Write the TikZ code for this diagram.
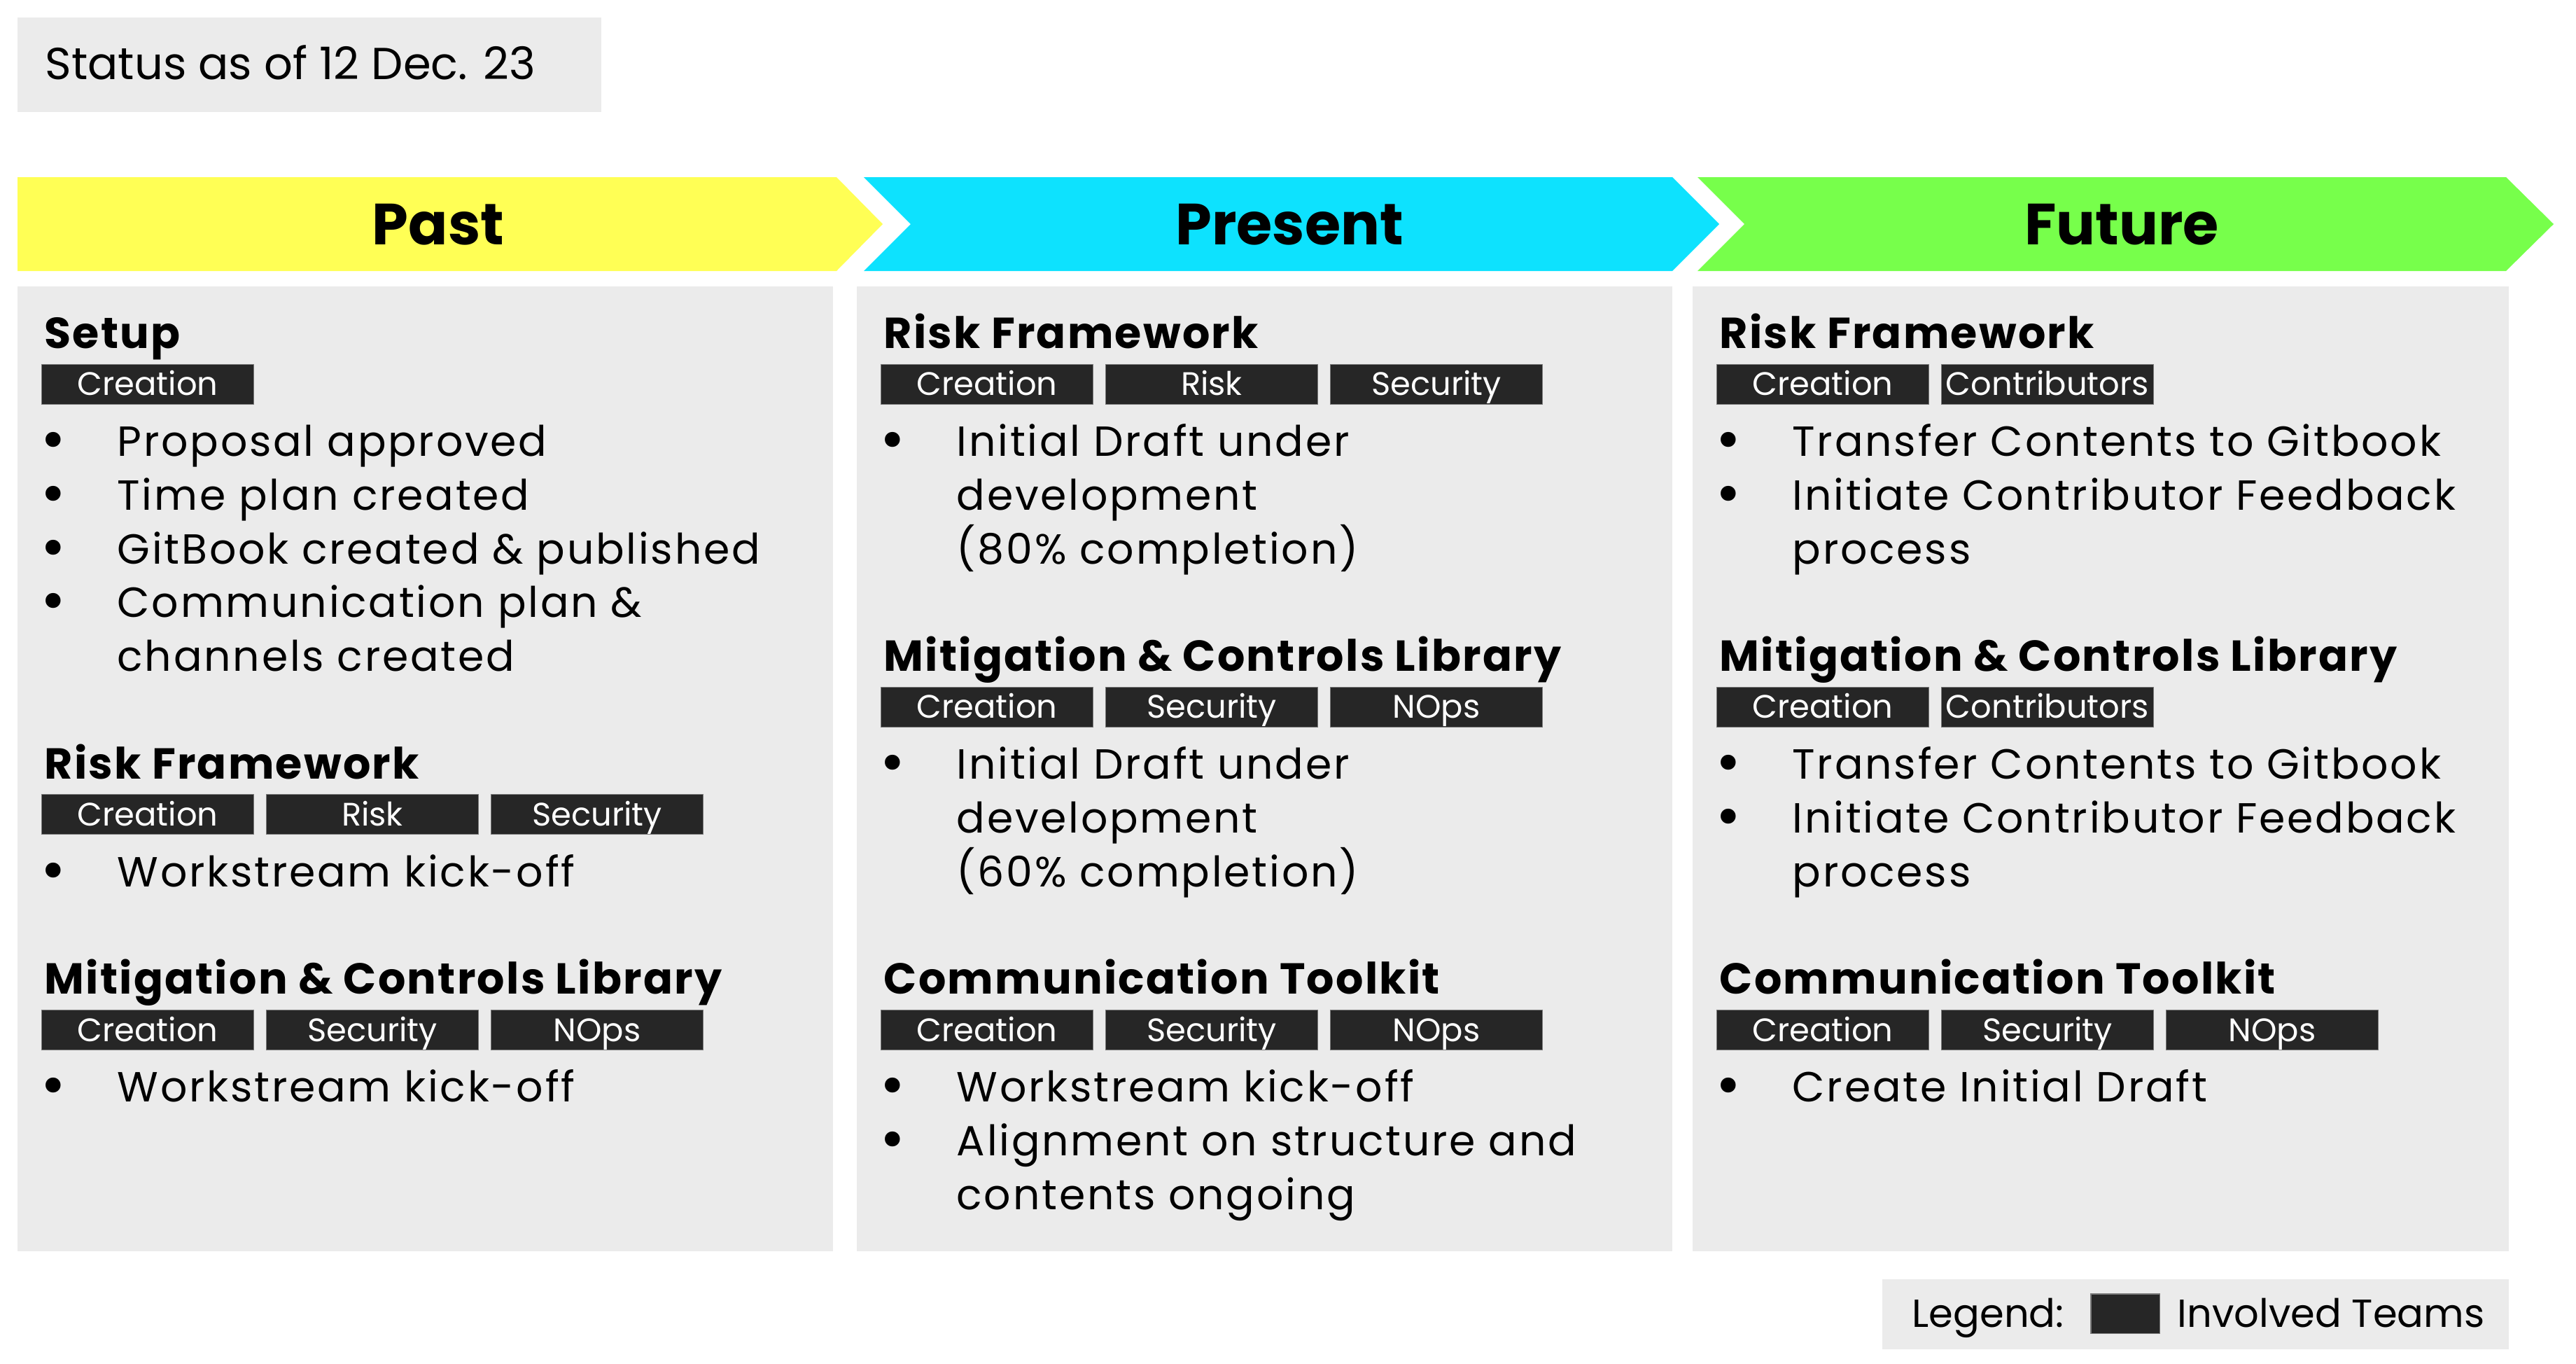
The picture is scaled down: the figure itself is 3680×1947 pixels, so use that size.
\documentclass[tikz,border=0pt]{standalone}
\usepackage{fontspec}
\setmainfont{Poppins}
\newfontfamily\bodyfam{Poppins}[LetterSpace=4.6]
\newfontfamily\titlefam{Poppins}[LetterSpace=3.6]
\newfontfamily\dotfam{DejaVu Sans}

\definecolor{pastfill}{HTML}{FFFF55}
\definecolor{presentfill}{HTML}{0DE2FE}
\definecolor{futurefill}{HTML}{77FF4B}
\definecolor{panelgray}{HTML}{EBEBEB}
\definecolor{tagfill}{HTML}{262626}
\definecolor{tagedge}{HTML}{7A7A7A}

% font sizes (1 unit = 0.01cm)
\newcommand{\phasefont}{\fontsize{23.6pt}{28pt}\bfseries\selectfont}
\newcommand{\titlefont}{\titlefam\fontsize{17.6pt}{21pt}\bfseries\selectfont}
\newcommand{\bodyfont}{\bodyfam\fontsize{17.1pt}{21pt}\selectfont}
\newcommand{\dotfont}{\dotfam\fontsize{21pt}{21pt}\selectfont}
\newcommand{\tagfont}{\fontsize{13.2pt}{16pt}\selectfont}
\newcommand{\statusfont}{\fontsize{18.2pt}{22pt}\selectfont}
\newcommand{\legendfont}{\fontsize{15.9pt}{19pt}\selectfont}

% baseline of text row #1 inside the panels
\pgfmathdeclarefunction{rowy}{1}{\pgfmathparse{497.6+76.85*#1}}

\tikzset{
  panel/.style={fill=panelgray, draw=none},
  phaselabel/.style={font=\phasefont, inner sep=0, text height=16.5pt, text depth=0pt, anchor=center},
  sectitle/.style={font=\titlefont, inner sep=0, anchor=base west},
  item/.style={font=\bodyfont, inner sep=0, anchor=base west},
  dot/.style={font=\dotfont, inner sep=0, anchor=base, text height=8pt, text depth=0pt},
  teamtag/.style={fill=tagfill, draw=tagedge, line width=0.3pt, text=white, font=\tagfont,
    inner sep=0, minimum width=3.02cm, minimum height=0.57cm, text height=9.2pt, text depth=0pt},
}

% #1 name, #2 panel left edge, #3 row, #4 text
\newcommand{\sectionhead}[4]{\node[sectitle] (#1) at ({#2+38},{rowy(#3)}) {#4};}
% #1 name, #2 panel left edge, #3 slot, #4 row of the section title, #5 text
\newcommand{\teamtag}[5]{\node[teamtag] (#1) at ({#2+186+321*#3},{rowy(#4)+51}) {#5};}
% #1 name, #2 panel left edge, #3 row, #4 text
\newcommand{\bulletitem}[4]{\node[dot] (#1d) at ({#2+51},{rowy(#3)+4}) {•};
  \node[item] (#1) at ({#2+142},{rowy(#3)}) {#4};}
\newcommand{\contitem}[4]{\node[item] (#1) at ({#2+142},{rowy(#3)}) {#4};}

\begin{document}
\begin{tikzpicture}[x=0.01cm,y=-0.01cm]
\useasboundingbox (0,0) rectangle (3680,1947);

% status stamp
\fill[panelgray] (25,25) rectangle (859,160);
\node[font=\statusfont, inner sep=0, anchor=base west] (status) at (64,113.3) {Status as of 12 Dec. 23};

% phase chevrons
\fill[pastfill] (25,253) -- (1195,253) -- (1261,320) -- (1195,387) -- (25,387) -- cycle;
\fill[presentfill] (1234,253) -- (2389,253) -- (2456,320) -- (2389,387) -- (1234,387) -- (1301,320) -- cycle;
\fill[futurefill] (2425,253) -- (3580,253) -- (3648,320) -- (3580,387) -- (2425,387) -- (2492,320) -- cycle;
\node[phaselabel] (past) at (626,320) {Past};
\node[phaselabel] (present) at (1842,320) {Present};
\node[phaselabel] (future) at (3031,320) {Future};

% panels
\fill[panel] (25,409) rectangle (1190,1787);
\fill[panel] (1224,409) rectangle (2389,1787);
\fill[panel] (2418,409) rectangle (3584,1787);

% ---- Past ----
\def\cx{25}
\sectionhead{pa}{\cx}{0}{Setup}
\teamtag{pat1}{\cx}{0}{0}{Creation}
\bulletitem{pa1}{\cx}{2}{Proposal approved}
\bulletitem{pa2}{\cx}{3}{Time plan created}
\bulletitem{pa3}{\cx}{4}{GitBook created \& published}
\bulletitem{pa4}{\cx}{5}{Communication plan \&}
\contitem{pa4b}{\cx}{6}{channels created}

\sectionhead{pb}{\cx}{8}{Risk Framework}
\teamtag{pbt1}{\cx}{0}{8}{Creation}
\teamtag{pbt2}{\cx}{1}{8}{Risk}
\teamtag{pbt3}{\cx}{2}{8}{Security}
\bulletitem{pb1}{\cx}{10}{Workstream kick-off}

\sectionhead{pc}{\cx}{12}{Mitigation \& Controls Library}
\teamtag{pct1}{\cx}{0}{12}{Creation}
\teamtag{pct2}{\cx}{1}{12}{Security}
\teamtag{pct3}{\cx}{2}{12}{NOps}
\bulletitem{pc1}{\cx}{14}{Workstream kick-off}

% ---- Present ----
\def\cx{1224}
\sectionhead{ra}{\cx}{0}{Risk Framework}
\teamtag{rat1}{\cx}{0}{0}{Creation}
\teamtag{rat2}{\cx}{1}{0}{Risk}
\teamtag{rat3}{\cx}{2}{0}{Security}
\bulletitem{ra1}{\cx}{2}{Initial Draft under}
\contitem{ra1b}{\cx}{3}{development}
\contitem{ra1c}{\cx}{4}{(80\% completion)}

\sectionhead{rb}{\cx}{6}{Mitigation \& Controls Library}
\teamtag{rbt1}{\cx}{0}{6}{Creation}
\teamtag{rbt2}{\cx}{1}{6}{Security}
\teamtag{rbt3}{\cx}{2}{6}{NOps}
\bulletitem{rb1}{\cx}{8}{Initial Draft under}
\contitem{rb1b}{\cx}{9}{development}
\contitem{rb1c}{\cx}{10}{(60\% completion)}

\sectionhead{rc}{\cx}{12}{Communication Toolkit}
\teamtag{rct1}{\cx}{0}{12}{Creation}
\teamtag{rct2}{\cx}{1}{12}{Security}
\teamtag{rct3}{\cx}{2}{12}{NOps}
\bulletitem{rc1}{\cx}{14}{Workstream kick-off}
\bulletitem{rc2}{\cx}{15}{Alignment on structure and}
\contitem{rc2b}{\cx}{16}{contents ongoing}

% ---- Future ----
\def\cx{2418}
\sectionhead{fa}{\cx}{0}{Risk Framework}
\teamtag{fat1}{\cx}{0}{0}{Creation}
\teamtag{fat2}{\cx}{1}{0}{Contributors}
\bulletitem{fa1}{\cx}{2}{Transfer Contents to Gitbook}
\bulletitem{fa2}{\cx}{3}{Initiate Contributor Feedback}
\contitem{fa2b}{\cx}{4}{process}

\sectionhead{fb}{\cx}{6}{Mitigation \& Controls Library}
\teamtag{fbt1}{\cx}{0}{6}{Creation}
\teamtag{fbt2}{\cx}{1}{6}{Contributors}
\bulletitem{fb1}{\cx}{8}{Transfer Contents to Gitbook}
\bulletitem{fb2}{\cx}{9}{Initiate Contributor Feedback}
\contitem{fb2b}{\cx}{10}{process}

\sectionhead{fc}{\cx}{12}{Communication Toolkit}
\teamtag{fct1}{\cx}{0}{12}{Creation}
\teamtag{fct2}{\cx}{1}{12}{Security}
\teamtag{fct3}{\cx}{2}{12}{NOps}
\bulletitem{fc1}{\cx}{14}{Create Initial Draft}

% legend
\fill[panelgray] (2689,1827) rectangle (3584,1927);
\node[font=\legendfont, inner sep=0, anchor=base west] (legend) at (2731,1895) {Legend:};
\node[fill=tagfill, draw=tagedge, line width=0.3pt, inner sep=0, minimum width=0.98cm, minimum height=0.56cm] (legendkey) at (3036,1876) {};
\node[font=\legendfont, inner sep=0, anchor=base west] (legendtext) at (3110,1895) {Involved Teams};
\end{tikzpicture}
\end{document}
